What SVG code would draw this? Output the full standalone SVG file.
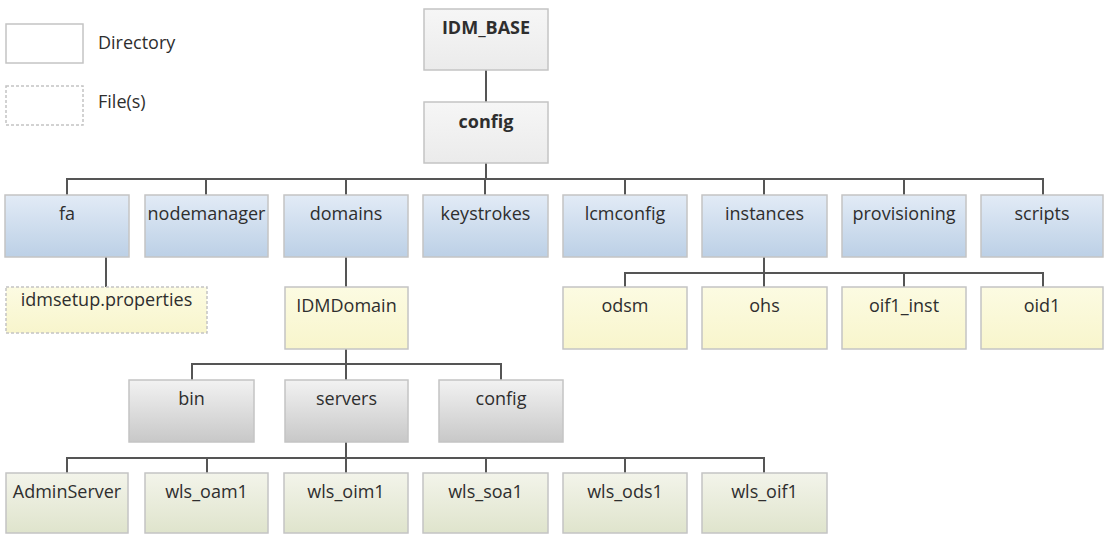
<svg xmlns="http://www.w3.org/2000/svg" width="1105" height="535" viewBox="0 0 1105 535">
  <defs>
    <linearGradient id="gBlue" x1="0" y1="0" x2="0" y2="1">
      <stop offset="0" stop-color="#e2ebf6"/>
      <stop offset="1" stop-color="#bcd0e6"/>
    </linearGradient>
    <linearGradient id="gYellow" x1="0" y1="0" x2="0" y2="1">
      <stop offset="0" stop-color="#fcfbe2"/>
      <stop offset="1" stop-color="#f8f5cc"/>
    </linearGradient>
    <linearGradient id="gGray" x1="0" y1="0" x2="0" y2="1">
      <stop offset="0" stop-color="#f2f2f2"/>
      <stop offset="1" stop-color="#c8c8c8"/>
    </linearGradient>
    <linearGradient id="gGreen" x1="0" y1="0" x2="0" y2="1">
      <stop offset="0" stop-color="#f3f4ea"/>
      <stop offset="1" stop-color="#dfe4cc"/>
    </linearGradient>
    <linearGradient id="gRoot" x1="0" y1="0" x2="0" y2="1">
      <stop offset="0" stop-color="#f6f6f6"/>
      <stop offset="1" stop-color="#ebebeb"/>
    </linearGradient>
  </defs>
  <style>
    rect { stroke: #c4c4c4; stroke-width: 1.5; }
    .blue { fill: url(#gBlue); }
    .yellow { fill: url(#gYellow); }
    .gray { fill: url(#gGray); }
    .green { fill: url(#gGreen); }
    .root { fill: url(#gRoot); }
    .file { stroke-dasharray: 3 2; }
    .legend { fill: #ffffff; }
    text { font-family: "Open Sans", "Noto Sans", "Liberation Sans", sans-serif; font-size: 18px; fill: #2e2e2e; text-anchor: middle; }
    .bold { font-weight: bold; }
    .lg { text-anchor: start; }
    #connectors path { fill: none; stroke: #555555; stroke-width: 2; }
  </style>

  <!-- legend -->
  <g id="legend">
    <rect class="legend" x="6" y="24" width="77" height="39"/>
    <text class="lg" x="98" y="49">Directory</text>
    <rect class="legend file" x="6" y="86" width="77" height="39"/>
    <text class="lg" x="98" y="108">File(s)</text>
  </g>

  <!-- connectors -->
  <g id="connectors">
    <path d="M486 70V102"/>
    <path d="M486 163V179"/>
    <path d="M67 195V179H1043V195"/>
    <path d="M206 179V195M346 179V195M485 179V195M625 179V195M764 179V195M904 179V195"/>
    <path d="M106 257V287"/>
    <path d="M346 257V287"/>
    <path d="M764 257V287"/>
    <path d="M625 287V273H1043V287M904 273V287"/>
    <path d="M346 349V380"/>
    <path d="M192 380V364H501V380"/>
    <path d="M346 442V473"/>
    <path d="M67 473V458H764V473"/>
    <path d="M207 458V473M486 458V473M625 458V473"/>
  </g>

  <!-- top -->
  <g id="idm_base"><rect class="root" x="424" y="9" width="124" height="61"/><text class="bold" x="486" y="34">IDM_BASE</text></g>
  <g id="config_top"><rect class="root" x="424" y="102" width="124" height="61"/><text class="bold" x="486" y="128">config</text></g>

  <!-- first level directories -->
  <g id="fa"><rect class="blue" x="5" y="195" width="124" height="62"/><text x="67" y="220">fa</text></g>
  <g id="nodemanager"><rect class="blue" x="145" y="195" width="123" height="62"/><text x="206.5" y="220">nodemanager</text></g>
  <g id="domains"><rect class="blue" x="284" y="195" width="124" height="62"/><text x="346" y="220">domains</text></g>
  <g id="keystrokes"><rect class="blue" x="423" y="195" width="125" height="62"/><text x="485.5" y="220">keystrokes</text></g>
  <g id="lcmconfig"><rect class="blue" x="563" y="195" width="124" height="62"/><text x="625" y="220">lcmconfig</text></g>
  <g id="instances"><rect class="blue" x="702" y="195" width="125" height="62"/><text x="764.5" y="220">instances</text></g>
  <g id="provisioning"><rect class="blue" x="842" y="195" width="124" height="62"/><text x="904" y="220">provisioning</text></g>
  <g id="scripts"><rect class="blue" x="981" y="195" width="122" height="62"/><text x="1042" y="220">scripts</text></g>

  <!-- second level -->
  <g id="idmsetup"><rect class="yellow file" x="6" y="287" width="201" height="46"/><text x="106.5" y="306">idmsetup.properties</text></g>
  <g id="idmdomain"><rect class="yellow" x="285" y="287" width="123" height="62"/><text x="346.5" y="312">IDMDomain</text></g>
  <g id="odsm"><rect class="yellow" x="563" y="287" width="124" height="62"/><text x="625" y="312">odsm</text></g>
  <g id="ohs"><rect class="yellow" x="702" y="287" width="125" height="62"/><text x="764.5" y="312">ohs</text></g>
  <g id="oif1_inst"><rect class="yellow" x="842" y="287" width="124" height="62"/><text x="904" y="312">oif1_inst</text></g>
  <g id="oid1"><rect class="yellow" x="981" y="287" width="122" height="62"/><text x="1042" y="312">oid1</text></g>

  <!-- domain contents -->
  <g id="bin"><rect class="gray" x="129" y="380" width="125" height="62"/><text x="191.5" y="405">bin</text></g>
  <g id="servers"><rect class="gray" x="285" y="380" width="123" height="62"/><text x="346.5" y="405">servers</text></g>
  <g id="config_domain"><rect class="gray" x="439" y="380" width="124" height="62"/><text x="501" y="405">config</text></g>

  <!-- managed servers -->
  <g id="adminserver"><rect class="green" x="6" y="473" width="122" height="60"/><text x="67" y="498">AdminServer</text></g>
  <g id="wls_oam1"><rect class="green" x="145" y="473" width="123" height="60"/><text x="206.5" y="498">wls_oam1</text></g>
  <g id="wls_oim1"><rect class="green" x="284" y="473" width="124" height="60"/><text x="346" y="498">wls_oim1</text></g>
  <g id="wls_soa1"><rect class="green" x="423" y="473" width="125" height="60"/><text x="485.5" y="498">wls_soa1</text></g>
  <g id="wls_ods1"><rect class="green" x="563" y="473" width="124" height="60"/><text x="625" y="498">wls_ods1</text></g>
  <g id="wls_oif1"><rect class="green" x="702" y="473" width="125" height="60"/><text x="764.5" y="498">wls_oif1</text></g>
</svg>
